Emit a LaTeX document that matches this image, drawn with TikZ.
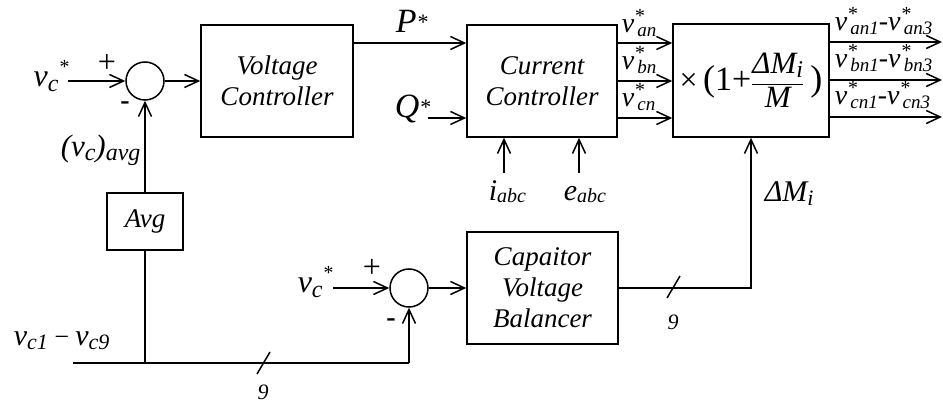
\documentclass[tikz,border=0pt]{standalone}
\usepackage{fontspec}
\setmainfont{Liberation Serif}
\usetikzlibrary{arrows.meta,calc}
\newcommand\fs[1]{\fontsize{#1}{#1}\selectfont}
% v with a raised star and a lowered subscript
\newcommand\vcs{v\raisebox{-5pt}{\fs{24}c}\raisebox{13pt}{\fs{20}*}}
\newcommand\vst[1]{v\rlap{\raisebox{10pt}{\fs{20}*}}\raisebox{-4pt}{\fs{19}\,#1}}
\newcommand\lsub[2]{#1\raisebox{-4pt}{\fs{19}#2}}
\begin{document}
\begin{tikzpicture}[x=1pt,y=-1pt,line width=1.5pt,
  arr/.style={-{Straight Barb[length=14pt,width=13pt]}},
  blk/.style={draw,rectangle,inner sep=0pt,align=center,font=\fontsize{27}{31}\selectfont\itshape},
  sumnode/.style={draw,circle,minimum size=38pt,inner sep=0pt},
  lab/.style={inner sep=0pt,font=\itshape},
  sgn/.style={inner sep=0pt,font=\fs{32}}]
\useasboundingbox (0,0) rectangle (943,403);
% blocks
\node[sumnode] (s1) at (145,81) {};
\node[blk,minimum width=152pt,minimum height=112pt] (vc) at (277,81) {Voltage\\Controller};
\node[blk,minimum width=150pt,minimum height=112pt] (cc) at (542,81) {Current\\Controller};
\node[blk,minimum width=156pt,minimum height=113pt,font=\fs{32}\upshape] (mul) at (751,80.5)
  {{\fs{32}×\,}{\fs{36}(}{\fs{34}1+}$\displaystyle\frac{\hbox{\fs{31}\itshape ΔM\raisebox{-4pt}{\fs{24}i}}}{\hbox{\fs{31}\itshape M}}${\fs{36}\,)}};
\node[blk,minimum width=76pt,minimum height=57pt] (avg) at (145,221.5) {Avg};
\node[sumnode] (s2) at (409,288) {};
\node[blk,minimum width=151pt,minimum height=112pt] (cvb) at (542.5,288) {Capaitor\\Voltage\\Balancer};
% coordinates
\coordinate (in1) at (68,81);
\coordinate (py) at (0,43);
\coordinate (qin) at (428,118);
\coordinate (iin) at (504,173);
\coordinate (ein) at (579,173);
\coordinate (ya) at (0,43);
\coordinate (yb) at (0,81);
\coordinate (yc) at (0,118);
\coordinate (oa) at (942,42);
\coordinate (ob) at (942,80);
\coordinate (oc) at (942,117);
\coordinate (b0) at (73,363);
\coordinate (in2) at (333,288);
% connectors
\draw[arr] (in1) -- (s1.west);
\draw[arr] (s1.east) -- (vc.west);
\draw[arr] (vc.east |- py) -- (cc.west |- py);
\draw[arr] (qin) -- (cc.west |- qin);
\draw[arr] (iin) -- (iin |- cc.south);
\draw[arr] (ein) -- (ein |- cc.south);
\draw[arr] (cc.east |- ya) -- (mul.west |- ya);
\draw[arr] (cc.east |- yb) -- (mul.west |- yb);
\draw[arr] (cc.east |- yc) -- (mul.west |- yc);
\draw[arr] (mul.east |- oa) -- (oa);
\draw[arr] (mul.east |- ob) -- (ob);
\draw[arr] (mul.east |- oc) -- (oc);
\draw[arr] (avg.north) -- (s1.south);
\draw (avg.south) -- (avg.south |- b0);
\draw (b0) -- (s2.south |- b0);
\draw[arr] (s2.south |- b0) -- (s2.south);
\draw[arr] (in2) -- (s2.west);
\draw[arr] (s2.east) -- (cvb.west);
\draw[arr] (cvb.east) -- (mul.south |- cvb.east) -- (mul.south);
% bus slashes
\draw (257,374) -- (270,352);
\draw (667,298) -- (680,276);
% labels
\node[lab,anchor=base west] (l1) at (33,87) {\fs{32}\vcs};
\node[sgn] (p1) at (107,63) {+};
\node[sgn,font=\fs{28}\bfseries] (m1) at (125,106) {-};
\node[lab,anchor=base west] (lavg) at (60,157) {\fs{31}(\lsub{v}{\fs{24}c})\lsub{}{\fs{24}avg}};
\node[lab,anchor=base west] (lp) at (395,33) {\fs{34}P\raisebox{3pt}{\fs{22}*}};
\node[lab,anchor=base west] (lq) at (394,118) {\fs{34}Q\raisebox{3pt}{\fs{22}*}};
\node[lab,anchor=base west] (li) at (488,201) {\fs{30}i\raisebox{-2pt}{\fs{20}abc}};
\node[lab,anchor=base west] (le) at (563,201) {\fs{30}e\raisebox{-2pt}{\fs{20}abc}};
\node[lab,anchor=base west] (lan) at (621,33) {\fs{28}\vst{an}};
\node[lab,anchor=base west] (lbn) at (621,70) {\fs{28}\vst{bn}};
\node[lab,anchor=base west] (lcn) at (621,107) {\fs{28}\vst{cn}};
\node[lab,anchor=base west] (oan) at (834,31) {\fs{28}\vst{an1}-\vst{an3}};
\node[lab,anchor=base west] (obn) at (834,68) {\fs{28}\vst{bn1}-\vst{bn3}};
\node[lab,anchor=base west] (ocn) at (834,105) {\fs{28}\vst{cn1}-\vst{cn3}};
\node[lab,anchor=base west] (ldm) at (764,202) {\fs{30}ΔM\raisebox{-4pt}{\fs{22}i}};
\node[lab,anchor=base west] (l2) at (297,293) {\fs{32}\vcs};
\node[sgn] (p2) at (372,268) {+};
\node[sgn,font=\fs{28}\bfseries] (m2) at (391,323) {-};
\node[lab,anchor=base west] (lvc) at (13,346) {\fs{30}\lsub{v}{\fs{22}c1}\hspace{5pt}{\fs{26}−}\hspace{5pt}\lsub{v}{\fs{22}c9}};
\node[lab] (n1) at (263,392) {\fs{22}9};
\node[lab] (n2) at (673,322) {\fs{22}9};
\end{tikzpicture}
\end{document}
